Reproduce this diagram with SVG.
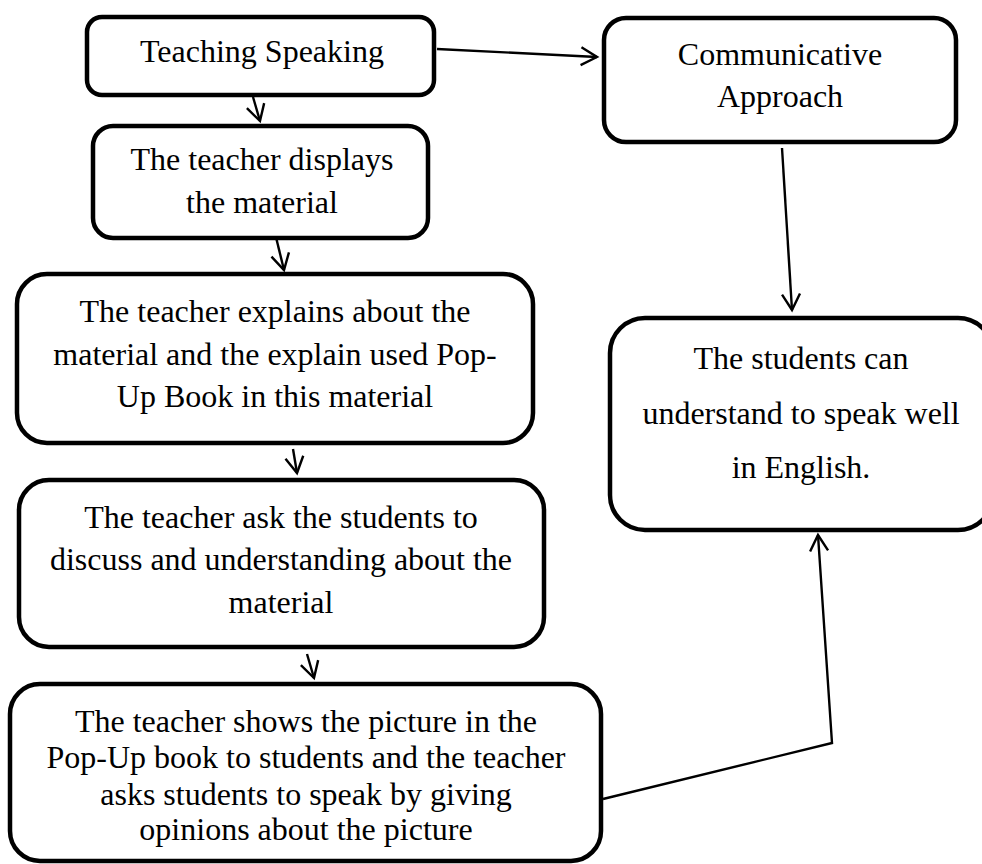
<svg xmlns="http://www.w3.org/2000/svg" width="982" height="864" viewBox="0 0 982 864">
  <style>
    .box { fill: #ffffff; stroke: #000000; stroke-width: 4.5; }
    .lbl { font-family: "Liberation Serif", "Times New Roman", serif; font-size: 32px; fill: #000000; text-anchor: middle; }
    .conn { fill: none; stroke: #000000; stroke-width: 2.4; marker-end: url(#chev); }
  </style>
  <defs>
    <marker id="chev" viewBox="0 0 18 20" refX="17" refY="10" markerWidth="18" markerHeight="20" markerUnits="userSpaceOnUse" orient="auto" overflow="visible">
      <path d="M1,1 L17,10 L1,19" fill="none" stroke="#000000" stroke-width="2.4" stroke-linejoin="miter"/>
    </marker>
  </defs>

  <rect width="982" height="864" fill="#ffffff"/>

  <g id="connectors">
    <line class="conn" x1="437" y1="49" x2="597" y2="57"/>
    <line class="conn" x1="253" y1="97" x2="260" y2="121"/>
    <line class="conn" x1="274" y1="229" x2="284" y2="270"/>
    <line class="conn" x1="293" y1="449" x2="297" y2="473"/>
    <line class="conn" x1="307" y1="654" x2="314" y2="678"/>
    <line class="conn" x1="782" y1="148" x2="792" y2="310"/>
    <polyline class="conn" points="603,799 832,743 818,535"/>
  </g>

  <g id="teaching-speaking">
    <rect class="box" x="87" y="17" width="347" height="78" rx="15"/>
    <text class="lbl" x="262" y="62">Teaching Speaking</text>
  </g>

  <g id="communicative-approach">
    <rect class="box" x="604" y="18" width="352" height="124" rx="22"/>
    <text class="lbl" x="780" y="65">Communicative</text>
    <text class="lbl" x="780" y="107">Approach</text>
  </g>

  <g id="displays-material">
    <rect class="box" x="93" y="126" width="335" height="112" rx="20"/>
    <text class="lbl" x="262" y="170">The teacher displays</text>
    <text class="lbl" x="262" y="213">the material</text>
  </g>

  <g id="explains-material">
    <rect class="box" x="17" y="274" width="516" height="169" rx="30"/>
    <text class="lbl" x="275" y="322">The teacher explains about the</text>
    <text class="lbl" x="275" y="365">material and the explain used Pop-</text>
    <text class="lbl" x="275" y="407">Up Book in this material</text>
  </g>

  <g id="discuss-material">
    <rect class="box" x="19" y="480" width="525" height="167" rx="30"/>
    <text class="lbl" x="281" y="528">The teacher ask the students to</text>
    <text class="lbl" x="281" y="570">discuss and understanding about the</text>
    <text class="lbl" x="281" y="613">material</text>
  </g>

  <g id="shows-picture">
    <rect class="box" x="10" y="684" width="591" height="177" rx="30"/>
    <text class="lbl" x="306" y="732">The teacher shows the picture in the</text>
    <text class="lbl" x="306" y="768">Pop-Up book to students and the teacher</text>
    <text class="lbl" x="306" y="805">asks students to speak by giving</text>
    <text class="lbl" x="306" y="840">opinions about the picture</text>
  </g>

  <g id="speak-well">
    <rect class="box" x="610" y="318" width="383" height="212" rx="35"/>
    <text class="lbl" x="801" y="369">The students can</text>
    <text class="lbl" x="801" y="424">understand to speak well</text>
    <text class="lbl" x="801" y="478">in English.</text>
  </g>
</svg>
